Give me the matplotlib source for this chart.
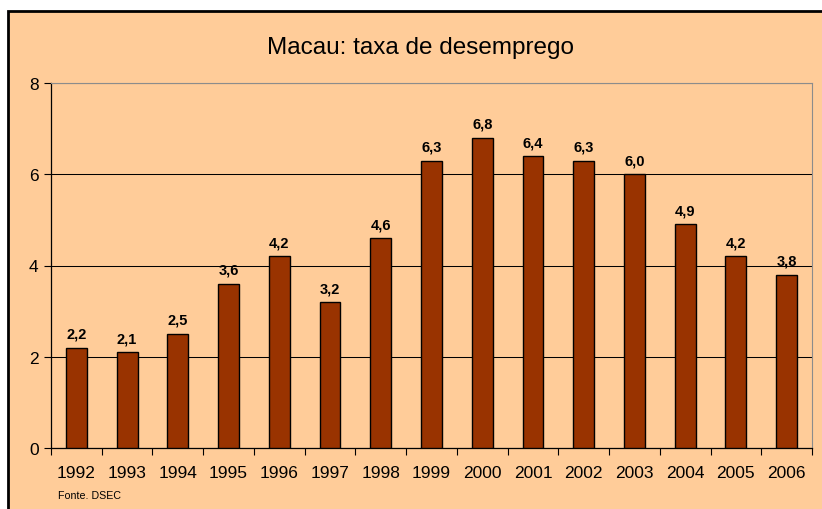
import matplotlib
matplotlib.use("Agg")
import matplotlib.pyplot as plt
from matplotlib.patches import Rectangle
import numpy as np

years = ["1992", "1993", "1994", "1995", "1996", "1997", "1998", "1999",
         "2000", "2001", "2002", "2003", "2004", "2005", "2006"]
rates = [2.2, 2.1, 2.5, 3.6, 4.2, 3.2, 4.6, 6.3, 6.8, 6.4, 6.3, 6.0, 4.9, 4.2, 3.8]
labels = ["2,2", "2,1", "2,5", "3,6", "4,2", "3,2", "4,6", "6,3",
          "6,8", "6,4", "6,3", "6,0", "4,9", "4,2", "3,8"]

plt.rcParams['font.family'] = ['Liberation Sans', 'DejaVu Sans']
bg = '#FFCC99'
W, H = 822, 510
fig = plt.figure(figsize=(W / 100, H / 100), dpi=100)
fig.patch.set_facecolor('white')

# outer chart area with border (cropped at right/bottom)
fig.patches.append(Rectangle((8 / W, -0.05), 1.1, (H - 12) / H + 0.05,
                             transform=fig.transFigure, facecolor=bg,
                             edgecolor='black', linewidth=2, zorder=-5))

left, right, top, bottom = 51, 812, 84, 449
ax = fig.add_axes([left / W, 1 - bottom / H, (right - left) / W, (bottom - top) / H])
ax.set_zorder(1)
ax.set_facecolor(bg)

x = np.arange(len(years))
ax.bar(x, rates, width=0.41, color='#993300', edgecolor='black', linewidth=1, zorder=3)
for xi, v, lab in zip(x, rates, labels):
    ax.annotate(lab, (xi, v), xytext=(0, 5), textcoords='offset points',
                ha='center', va='bottom', fontsize=10.5, fontweight='bold', zorder=4)

ax.set_xlim(-0.5, len(years) - 0.5)
ax.set_ylim(0, 8)
ax.set_yticks([0, 2, 4, 6, 8])
ax.set_yticklabels(['0', '2', '4', '6', '8'])
ax.tick_params(axis='y', labelsize=12.5, length=5, width=0.8, pad=4, direction='out')

ax.set_xticks(x)
ax.set_xticklabels(years)
ax.set_xticks(np.arange(-0.5, len(years), 1), minor=True)
ax.tick_params(axis='x', which='major', length=0, labelsize=12.5, pad=12)
ax.tick_params(axis='x', which='minor', length=5, width=0.8, direction='out')

ax.yaxis.grid(True, color='black', linewidth=0.75, zorder=0)
ax.set_axisbelow(True)
ax.spines['left'].set_color('black')
ax.spines['bottom'].set_color('black')
ax.spines['left'].set_linewidth(0.9)
ax.spines['bottom'].set_linewidth(0.9)
ax.spines['top'].set_color('#8c8c8c')
ax.spines['right'].set_color('#8c8c8c')
ax.spines['top'].set_linewidth(0.8)
ax.spines['right'].set_linewidth(0.8)

fig.text(420 / W, 1 - 48 / H, "Macau: taxa de desemprego", ha='center', va='center', fontsize=17.5)
fig.text(58 / W, 1 - 496 / H, "Fonte. DSEC", ha='left', va='center', fontsize=7.7)

fig.savefig("out.png", dpi=100, facecolor='white')
